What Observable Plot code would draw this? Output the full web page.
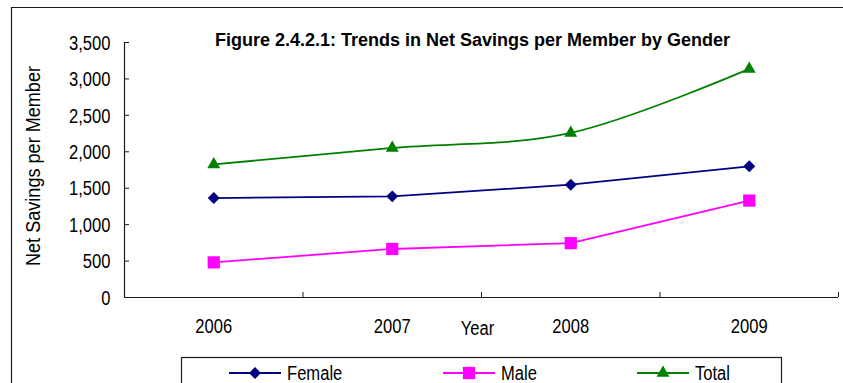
<!DOCTYPE html>
<html>
<head>
<meta charset="utf-8">
<script src="https://cdn.jsdelivr.net/npm/d3@7"></script>
<script src="https://cdn.jsdelivr.net/npm/@observablehq/plot@0.6"></script>
<style>
  html, body { margin: 0; padding: 0; background: #fff; }
  #chart { position: relative; width: 843px; height: 383px; overflow: hidden; }
  #chart svg { display: block; }
</style>
</head>
<body>
<div id="chart"></div>
<script>
// Net savings per member, by gender
const years = [2006, 2007, 2008, 2009];
const female = [1365, 1388, 1548, 1801];
const male = [482, 666, 746, 1330];
const total = [1826, 2053, 2259, 3137];

const seriesNames = ["Female", "Male", "Total"];
const seriesColors = ["#000080", "#FF00FF", "#008000"];
const seriesSymbols = ["diamond2", "square", "triangle"];
const yTicks = [0, 500, 1000, 1500, 2000, 2500, 3000, 3500];

const titleText = "Figure 2.4.2.1: Trends in Net Savings per Member by Gender";
const xLabel = "Year";
const yLabel = "Net Savings per Member";

const rows = [female, male, total].flatMap((vals, s) =>
  vals.map((v, i) => ({series: seriesNames[s], year: years[i], value: v}))
);

// layout
const W = 843, H = 383;
const mL = 124, mR = 5, mT = 42, mB = 86;
const innerW = W - mL - mR, innerH = H - mT - mB;
const font = "'Liberation Sans', Arial, sans-serif";
const fs = 19.5;
const narrow = 0.85; // horizontal squeeze that gives the narrow face
const axisColor = "#1a1a1a";
const markerR = {Female: 5.4, Male: 6.9, Total: 4.8};
const xDomain = [years[0] - 0.5, years[years.length - 1] + 0.5];
const boundaries = years.map(y => y + 0.5);

const lineMarks = seriesNames.map((name) =>
  Plot.line(rows.filter(d => d.series === name), {
    x: "year", y: "value", stroke: "series", strokeWidth: 1.8,
    curve: name === "Total" ? "cardinal" : "linear"
  })
);
const dotMarks = seriesNames.map((name) =>
  Plot.dot(rows.filter(d => d.series === name), {
    x: "year", y: "value", fill: "series", symbol: "series", r: markerR[name], stroke: "none"
  })
);

const chart = Plot.plot({
  width: W, height: H,
  marginLeft: mL, marginRight: mR, marginTop: mT, marginBottom: mB,
  style: {fontFamily: font, fontSize: fs + "px", color: "#000", background: "transparent", overflow: "visible"},
  x: {domain: xDomain, axis: null},
  y: {domain: [0, 3500], axis: null},
  color: {domain: seriesNames, range: seriesColors},
  symbol: {domain: seriesNames, range: seriesSymbols},
  marks: [
    Plot.ruleX([xDomain[0]], {stroke: axisColor, strokeWidth: 1.2}),
    Plot.ruleY([0], {stroke: axisColor, strokeWidth: 1.2}),
    Plot.tickY(yTicks, {stroke: axisColor, insetRight: innerW - 5}),
    Plot.tickX(boundaries, {stroke: axisColor, insetTop: innerH - 5}),
    Plot.axisY({ticks: yTicks, tickSize: 0, tickPadding: 14, tickFormat: d3.format(","), fontSize: fs, dy: 1, label: null}),
    Plot.axisX({ticks: years, tickSize: 0, tickPadding: 22, tickFormat: d => String(d), fontSize: fs, label: null}),
    ...lineMarks,
    ...dotMarks,
    Plot.text([xLabel], {frameAnchor: "bottom", dy: 37, dx: -4, fontSize: fs, className: "xlab"}),
    Plot.text([yLabel], {frameAnchor: "left", textAnchor: "middle", rotate: -90, dx: -91, dy: -4, fontSize: fs, className: "ylab"}),
    Plot.text([titleText], {frameAnchor: "top", dy: -9, dx: -9, fontWeight: "bold", fontSize: 18, className: "title"})
  ]
});

document.getElementById("chart").appendChild(chart);

// outer frame and legend
const svg = d3.select(chart);
svg.append("path")
  .attr("d", `M11.5,${H} V7.5 H${W}`)
  .attr("fill", "none").attr("stroke", axisColor).attr("stroke-width", 1.2);

const legend = svg.append("g").attr("class", "legend")
  .attr("font-family", font).attr("font-size", fs).attr("text-anchor", "start");
legend.append("rect")
  .attr("x", 181.5).attr("y", 357.5).attr("width", 600).attr("height", 60)
  .attr("fill", "none").attr("stroke", axisColor).attr("stroke-width", 1.2);

const d3Symbols = {diamond2: d3.symbolDiamond2, square: d3.symbolSquare, triangle: d3.symbolTriangle};
const legendX = [229, 443, 637];
const legendY = 373;
seriesNames.forEach((name, i) => {
  const x0 = legendX[i];
  const g = legend.append("g");
  g.append("line")
    .attr("x1", x0).attr("x2", x0 + 52).attr("y1", legendY).attr("y2", legendY)
    .attr("stroke", seriesColors[i]).attr("stroke-width", 1.8);
  g.append("path")
    .attr("transform", `translate(${x0 + 26},${legendY})`)
    .attr("d", d3.symbol(d3Symbols[seriesSymbols[i]], markerR[name] * markerR[name] * Math.PI)())
    .attr("fill", seriesColors[i]);
  g.append("text")
    .attr("x", x0 + 58).attr("y", legendY).attr("dy", "0.35em")
    .text(name);
});

// condense the regular-weight labels to a narrow width
svg.selectAll("text").each(function () {
  if (this.closest(".title")) return;
  const len = this.getComputedTextLength();
  const target = this.closest(".ylab") ? 200 : len * narrow;
  this.setAttribute("textLength", target.toFixed(1));
  this.setAttribute("lengthAdjust", "spacingAndGlyphs");
});
</script>
</body>
</html>
